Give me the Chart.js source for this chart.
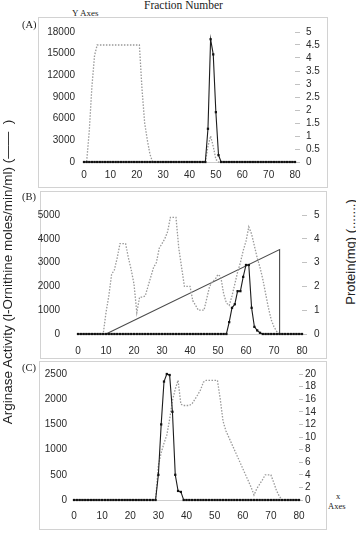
<!DOCTYPE html>
<html>
<head>
<meta charset="utf-8">
<title>Arginase elution profiles</title>
<script src="https://cdn.jsdelivr.net/npm/chart.js@4.4.0/dist/chart.umd.min.js"></script>
<style>
  html, body { margin: 0; padding: 0; background: #fff; }
  #page { position: relative; width: 356px; height: 533px; overflow: hidden;
          font-family: "Liberation Sans", Arial, sans-serif; }
  .box { position: absolute; border: 1px solid #d2d2d2; box-sizing: border-box; }
  canvas { position: absolute; }
  .serif { position: absolute; font-family: "Liberation Serif", "Times New Roman", serif;
           color: #222; white-space: nowrap; line-height: 1; }
  .vtitle { position: absolute; height: 16px; line-height: 16px; text-align: center;
            white-space: nowrap; transform: rotate(-90deg); color: #222; }
</style>
</head>
<body>
<div id="page">
  <div class="serif" style="left:144px; top:0px; font-size:11.5px;">Fraction Number</div>
  <div class="serif" style="left:72px; top:9px; font-size:9px;">Y Axes</div>

  <!-- canvases start 8px left of their boxes so the left tick labels are not cut -->
  <div class="box" style="left:38px; top:17px; width:290px; height:171px;"></div>
  <canvas id="panelA" width="298" height="171" style="left:30px; top:17px;"></canvas>
  <div class="serif" style="left:22px; top:20px; font-size:10.5px;">(A)</div>

  <div class="box" style="left:40px; top:191px; width:287px; height:168px;"></div>
  <canvas id="panelB" width="295" height="168" style="left:32px; top:191px;"></canvas>
  <div class="serif" style="left:22px; top:192px; font-size:10.5px;">(B)</div>

  <div class="box" style="left:39px; top:361px; width:288px; height:169px;"></div>
  <canvas id="panelC" width="296" height="169" style="left:31px; top:361px;"></canvas>
  <div class="serif" style="left:22px; top:363px; font-size:10.5px;">(C)</div>

  <div class="serif" style="left:336px; top:492px; font-size:8.5px;">x</div>
  <div class="serif" style="left:328px; top:502px; font-size:8.5px;">Axes</div>

  <div class="vtitle" style="left:-172px; top:264px; width:360px; font-size:13.5px;">Arginase Activity (l-Ornithine moles/min/ml) (&#8212;&#8212;&nbsp; )</div>
  <div class="vtitle" style="left:296px; top:244px; width:110px; font-size:13px;">Protein(mg) (.......)</div>
</div>

<script>
// fraction numbers (x categories)
const fractions = [
  0, 1, 2, 3, 4, 5, 6, 7, 8, 9,
  10, 11, 12, 13, 14, 15, 16, 17, 18, 19,
  20, 21, 22, 23, 24, 25, 26, 27, 28, 29,
  30, 31, 32, 33, 34, 35, 36, 37, 38, 39,
  40, 41, 42, 43, 44, 45, 46, 47, 48, 49,
  50, 51, 52, 53, 54, 55, 56, 57, 58, 59,
  60, 61, 62, 63, 64, 65, 66, 67, 68, 69,
  70, 71, 72, 73, 74, 75, 76, 77, 78, 79,
  80
];
const xTicks = [0, 10, 20, 30, 40, 50, 60, 70, 80];

// (A) arginase activity / protein
const activityA = [
  0, 0, 0, 0, 0, 0, 0, 0, 0, 0,
  0, 0, 0, 0, 0, 0, 0, 0, 0, 0,
  0, 0, 0, 0, 0, 0, 0, 0, 0, 0,
  0, 0, 0, 0, 0, 0, 0, 0, 0, 0,
  0, 0, 0, 0, 0, 0, 0, 4600, 17000, 14900,
  6900, 950, 0, 0, 0, 0, 0, 0, 0, 0,
  0, 0, 0, 0, 0, 0, 0, 0, 0, 0,
  0, 0, 0, 0, 0, 0, 0, 0, 0, 0,
  0
];
const proteinA = [
  0, 0, 1.2, 2.9, 4.1, 4.5, 4.5, 4.5, 4.5, 4.5,
  4.5, 4.5, 4.5, 4.5, 4.5, 4.5, 4.5, 4.5, 4.5, 4.5,
  4.5, 4.5, 2.8, 1.5, 0.85, 0.3, 0, 0, 0, 0,
  0, 0, 0, 0, 0, 0, 0, 0, 0, 0,
  0, 0, 0, 0, 0, 0, 0, 0.6, 1.0, 0.6,
  0.1, 0, 0, 0, 0, 0, 0, 0, 0, 0,
  0, 0, 0, 0, 0, 0, 0, 0, 0, 0,
  0, 0, 0, 0, 0, 0, 0, 0, 0, 0,
  0
];
const leftTicksA = [0, 3000, 6000, 9000, 12000, 15000, 18000];
const rightTicksA = [0, 0.5, 1, 1.5, 2, 2.5, 3, 3.5, 4, 4.5, 5];

// (B)
const activityB = [
  0, 0, 0, 0, 0, 0, 0, 0, 0, 0,
  0, 0, 0, 0, 0, 0, 0, 0, 0, 0,
  0, 0, 0, 0, 0, 0, 0, 0, 0, 0,
  0, 0, 0, 0, 0, 0, 0, 0, 0, 0,
  0, 0, 0, 0, 0, 0, 0, 0, 0, 0,
  0, 0, 0, 0, 500, 1100, 1250, 1800, 1800, 2400,
  2900, 2900, 1100, 300, 150, 50, 0, 0, 0, 0,
  0, 0, 0, 0, 0, 0, 0, 0, 0, 0,
  0
];
const proteinB = [
  0, 0, 0, 0, 0, 0, 0, 0, 0, 0,
  0.9, 1.6, 2.5, 2.7, 3.2, 3.8, 3.8, 3.8, 3.2, 2.7,
  2.1, 0.9, 1.55, 1.55, 1.6, 2.0, 2.4, 2.8, 3.0, 3.6,
  3.8, 4.0, 4.3, 4.9, 4.9, 4.9, 3.6, 2.8, 2.0, 2.0,
  2.0, 1.4, 1.2, 1.0, 1.0, 1.0, 1.5, 2.0, 2.2, 2.3,
  2.5, 2.4, 1.7, 1.3, 1.2, 1.6, 2.1, 2.6, 3.0, 3.5,
  3.9, 4.5, 4.2, 3.7, 3.2, 2.8, 2.3, 1.7, 1.1, 0.6,
  0.3, 0.1, 0, 0, 0, 0, 0, 0, 0, 0,
  0
];
// salt gradient line in (B)
const gradientX = [10, 72, 72];
const gradientY = [0, 3550, 0];
const leftTicksB = [0, 1000, 2000, 3000, 4000, 5000];
const rightTicksB = [0, 1, 2, 3, 4, 5];

// (C)
const activityC = [
  0, 0, 0, 0, 0, 0, 0, 0, 0, 0,
  0, 0, 0, 0, 0, 0, 0, 0, 0, 0,
  0, 0, 0, 0, 0, 0, 0, 0, 0, 0,
  500, 1500, 2350, 2500, 2480, 1750, 500, 180, 160, 0,
  0, 0, 0, 0, 0, 0, 0, 0, 0, 0,
  0, 0, 0, 0, 0, 0, 0, 0, 0, 0,
  0, 0, 0, 0, 0, 0, 0, 0, 0, 0,
  0, 0, 0, 0, 0, 0, 0, 0, 0, 0,
  0
];
const proteinC = [
  0, 0, 0, 0, 0, 0, 0, 0, 0, 0,
  0, 0, 0, 0, 0, 0, 0, 0, 0, 0,
  0, 0, 0, 0, 0, 0, 0, 0, 0, 0,
  5.5, 7.5, 9, 10.3, 12.8, 15.8, 17.6, 19, 15.2, 15,
  15, 15, 15.3, 16, 16.7, 17.5, 18.7, 19, 19, 19,
  19, 19, 16, 12.5, 11, 10, 9, 8, 7, 6,
  5, 4, 3, 2, 0.8, 1.8, 2.5, 3.2, 4, 4,
  4, 2.8, 1.5, 0.6, 0, 0, 0, 0, 0, 0,
  0
];
const leftTicksC = [0, 500, 1000, 1500, 2000, 2500];
const rightTicksC = [0, 2, 4, 6, 8, 10, 12, 14, 16, 18, 20];

const tickFont = { family: "'Liberation Sans', Arial, sans-serif", size: 10 };
const tickColor = "#2a2a2a";

function pts(xs, ys) {
  return xs.map((x, i) => ({ x: x, y: ys[i] }));
}

function drawPanel(id, p) {
  var datasets = [
    {
      data: pts(fractions, p.activity),
      yAxisID: "y",
      borderColor: "#1c1c1c",
      borderWidth: 1.1,
      pointStyle: "rect",
      pointRadius: 1.6,
      pointBackgroundColor: "#111",
      pointBorderWidth: 0,
      tension: 0,
      clip: false,
    },
    {
      data: pts(fractions, p.protein),
      yAxisID: "y1",
      borderColor: "#999",
      borderWidth: 1.3,
      borderDash: [1.5, 1.5],
      pointRadius: 0,
      tension: 0,
      clip: false,
    },
  ];
  if (p.gradient) {
    datasets.push({
      data: pts(gradientX, gradientY),
      yAxisID: "y",
      borderColor: "#4a4a4a",
      borderWidth: 1.1,
      pointRadius: 0,
      tension: 0,
      clip: false,
    });
  }

  var ctx = document.getElementById(id).getContext("2d");
  return new Chart(ctx, {
    type: "line",
    data: { datasets: datasets },
    options: {
      responsive: false,
      animation: false,
      events: [],
      layout: { padding: { left: 0, right: 0, top: p.top, bottom: 0 } },
      plugins: { legend: { display: false }, tooltip: { enabled: false } },
      scales: {
        x: {
          type: "linear",
          min: 0,
          max: 80,
          afterBuildTicks: (s) => { s.ticks = xTicks.map((v) => ({ value: v })); },
          afterFit: (s) => { s.height = p.xHeight; },
          grid: { display: false, drawTicks: false },
          border: { display: true, color: "#cdcdcd", width: 1 },
          ticks: { padding: p.xPad, color: tickColor, font: tickFont, maxRotation: 0,
                   autoSkip: false, callback: (v) => String(v) },
        },
        y: {
          type: "linear",
          position: "left",
          min: 0,
          max: p.leftTicks[p.leftTicks.length - 1],
          afterBuildTicks: (s) => { s.ticks = p.leftTicks.map((v) => ({ value: v })); },
          afterFit: (s) => { s.width = p.leftWidth; },
          grid: { display: false, drawTicks: false },
          border: { display: false },
          ticks: { padding: p.leftPad, color: tickColor, font: tickFont,
                   autoSkip: false, callback: (v) => String(v) },
        },
        y1: {
          type: "linear",
          position: "right",
          min: 0,
          max: p.rightTicks[p.rightTicks.length - 1],
          afterBuildTicks: (s) => { s.ticks = p.rightTicks.map((v) => ({ value: v })); },
          afterFit: (s) => { s.width = p.rightWidth; },
          grid: { display: true, drawOnChartArea: false, drawTicks: true,
                  tickLength: p.tickLen, color: "#c2c2c2" },
          border: { display: false },
          ticks: { padding: p.rightPad, color: tickColor, font: tickFont,
                   autoSkip: false, callback: (v) => String(v) },
        },
      },
    },
  });
}

drawPanel("panelA", {
  activity: activityA, protein: proteinA,
  leftTicks: leftTicksA, rightTicks: rightTicksA,
  top: 15, xHeight: 26, leftWidth: 54, rightWidth: 33,
  leftPad: 9, xPad: 7, tickLen: 5, rightPad: 6,
});

drawPanel("panelB", {
  activity: activityB, protein: proteinB, gradient: true,
  leftTicks: leftTicksB, rightTicks: rightTicksB,
  top: 12, xHeight: 25, leftWidth: 46, rightWidth: 25,
  leftPad: 18, xPad: 11, tickLen: 5, rightPad: 7,
});

drawPanel("panelC", {
  activity: activityC, protein: proteinC,
  leftTicks: leftTicksC, rightTicks: rightTicksC,
  top: 12, xHeight: 30, leftWidth: 43, rightWidth: 28,
  leftPad: 7, xPad: 10, tickLen: 4, rightPad: 2,
});
</script>
</body>
</html>
